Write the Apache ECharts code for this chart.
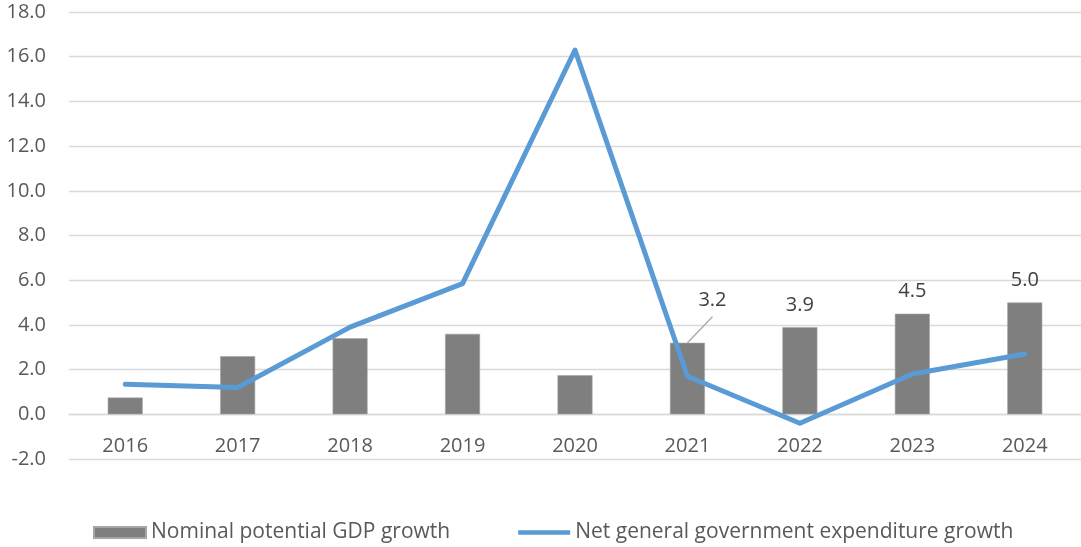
<!DOCTYPE html>
<html>
<head>
<meta charset="utf-8">
<script src="https://cdn.jsdelivr.net/npm/echarts@6/dist/echarts.min.js"></script>
<style>
  html, body { margin: 0; padding: 0; background: #ffffff; }
  #chart { width: 1081px; height: 547px; }
</style>
</head>
<body>
<div id="chart"></div>
<script>
// Years on the category axis
const years = ['2016', '2017', '2018', '2019', '2020', '2021', '2022', '2023', '2024'];
// Nominal potential GDP growth, %
const gdpGrowth = [0.75, 2.6, 3.4, 3.6, 1.75, 3.2, 3.9, 4.5, 5.0];
// Net general government expenditure growth, %
const expenditureGrowth = [1.35, 1.2, 3.9, 5.85, 16.3, 1.7, -0.4, 1.8, 2.7];
// Years whose bar carries a value label
const labelledYears = ['2021', '2022', '2023', '2024'];
// Year whose label is pushed aside and tied back to its bar with a leader line
const leaderYear = '2021';

const font = '"Open Sans", "Noto Sans", sans-serif';
const GRID_TOP = 12, GRID_BOTTOM = 88, CHART_H = 547;
const Y_MIN = -2, Y_MAX = 18;
// Pixel distance between the bottom of the plot and the zero line
const zeroShift = (CHART_H - GRID_TOP - GRID_BOTTOM) * (0 - Y_MIN) / (Y_MAX - Y_MIN);

const LEADER_DX = 25, LEADER_DY = -26;

const barData = gdpGrowth.map((v, i) => {
  const item = { value: v };
  if (labelledYears.includes(years[i])) item.label = { show: true };
  return item;
});

const leaderIdx = years.indexOf(leaderYear);
const leaderData = [[leaderIdx, gdpGrowth[leaderIdx]]];

const chart = echarts.init(document.getElementById('chart'), null, { renderer: 'canvas' });
chart.setOption({
  animation: false,
  backgroundColor: '#ffffff',
  grid: { left: 69, right: 0, top: GRID_TOP, bottom: GRID_BOTTOM, containLabel: false },
  legend: {
    top: 517,
    left: 88,
    itemGap: 68,
    itemWidth: 52,
    itemHeight: 11,
    textStyle: { fontFamily: font, fontSize: 21, color: '#595959' },
    data: [
      { name: 'Nominal potential GDP growth', icon: 'rect' },
      { name: 'Net general government expenditure growth', icon: 'path://M0,0 L56,0 L56,5 L0,5 Z' }
    ]
  },
  xAxis: {
    type: 'category',
    data: years,
    offset: -zeroShift,
    axisLine: { show: true, onZero: false, lineStyle: { color: '#d9d9d9', width: 1.3 } },
    axisTick: { show: false },
    axisLabel: { fontFamily: font, fontSize: 20, color: '#595959', margin: 22 }
  },
  yAxis: {
    type: 'value',
    min: Y_MIN,
    max: Y_MAX,
    interval: 2,
    axisLine: { show: false },
    axisTick: { show: false },
    splitLine: { lineStyle: { color: '#d9d9d9', width: 1.3 } },
    axisLabel: {
      fontFamily: font, fontSize: 20, color: '#595959', margin: 23,
      formatter: v => v.toFixed(1)
    }
  },
  series: [
    {
      name: 'Nominal potential GDP growth',
      type: 'bar',
      data: barData,
      barWidth: 35,
      itemStyle: { color: '#7f7f7f', borderColor: '#a6a6a6', borderWidth: 0.6 },
      label: {
        show: false,
        position: 'top',
        distance: 12,
        fontFamily: font,
        fontSize: 20,
        color: '#404040',
        formatter: p => p.value.toFixed(1)
      },
      labelLayout: function (params) {
        if (params.dataIndex === leaderIdx) return { dx: LEADER_DX, dy: -20 };
        return {};
      },
      z: 2
    },
    {
      // Leader line from the top of the bar to its shifted label
      type: 'custom',
      data: leaderData,
      silent: true,
      z: 2,
      renderItem: function (params, api) {
        const p = api.coord([api.value(0), api.value(1)]);
        return {
          type: 'line',
          shape: { x1: p[0], y1: p[1], x2: p[0] + LEADER_DX, y2: p[1] + LEADER_DY },
          style: { stroke: '#a6a6a6', lineWidth: 1.2 }
        };
      }
    },
    {
      name: 'Net general government expenditure growth',
      type: 'line',
      data: expenditureGrowth,
      symbol: 'none',
      lineStyle: { color: '#5b9bd5', width: 5, cap: 'round', join: 'round' },
      itemStyle: { color: '#5b9bd5' },
      z: 3
    }
  ]
});
</script>
</body>
</html>
